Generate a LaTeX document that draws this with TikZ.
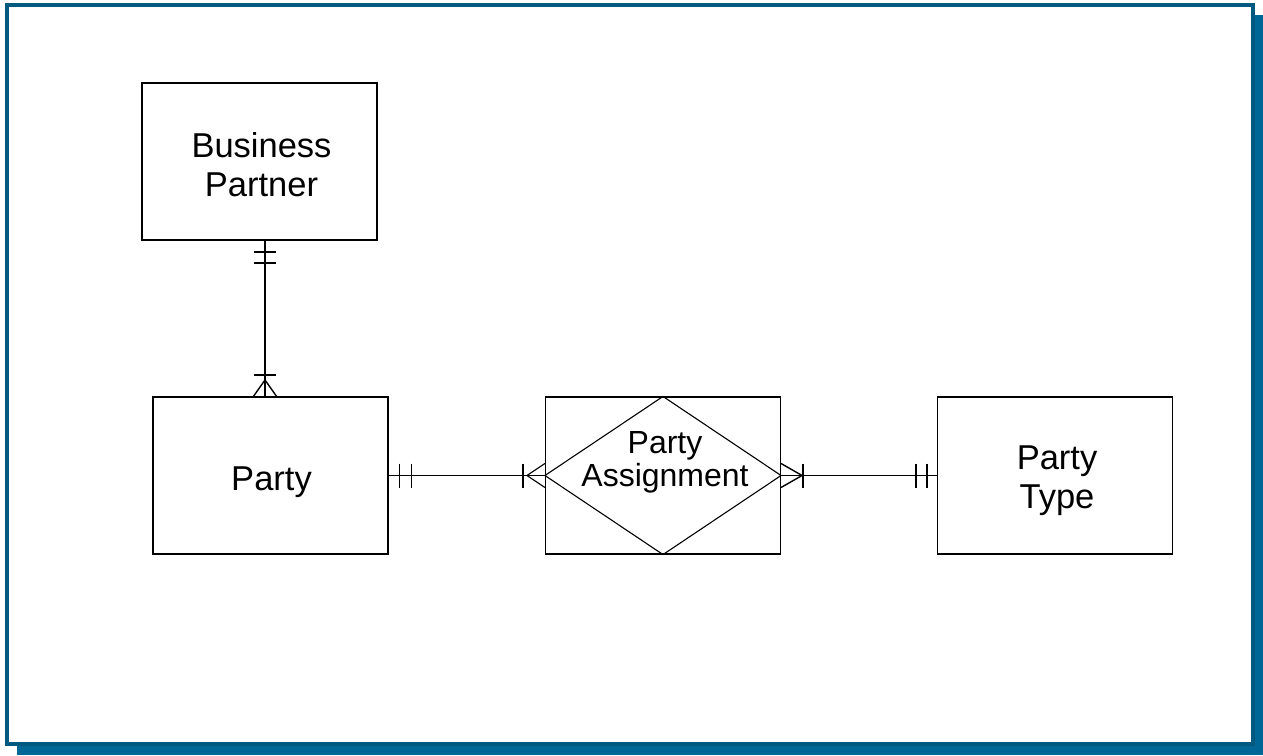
\documentclass[tikz,border=0pt]{standalone}
\usepackage{fontspec}
\setmainfont{Liberation Sans}
\usetikzlibrary{calc}
\definecolor{framecol}{RGB}{0,90,128}
\definecolor{shadowcol}{RGB}{0,102,150}
\begin{document}
\begin{tikzpicture}[x=1pt,y=-1pt,
  entity/.style={draw,line width=1.1pt,minimum width=235pt,minimum height=157pt,inner sep=0pt},
  etext/.style={align=center,font=\fontsize{34.5}{39}\selectfont},
  conn/.style={line width=1.4pt},
  connthin/.style={line width=1.1pt}]
\useasboundingbox (0,0) rectangle (1263,755);
% frame with shadow
\fill[shadowcol] (17,15) rectangle (1263,755);
\draw[framecol,line width=4pt,fill=white] (7,5) rectangle (1253,744);
% entities
\node[entity] (bp) at (259.5,161.5) {};
\node[etext] (bpl) at (261.5,165) {Business\\Partner};
\node[entity] (party) at (270.5,475.5) {};
\node[etext] (partyl) at (271.5,482) {Party};
\node[entity] (pa) at (663,475.5) {};
\node[entity] (pt) at (1055,475.5) {};
\node[etext] (ptl) at (1057,481) {Party\\Type};
\draw[line width=1.1pt] (pa.north) -- (pa.east) -- (pa.south) -- (pa.west) -- cycle;
\node[align=center,font=\fontsize{32}{33}\selectfont] (pal) at (665,462) {Party\\Assignment};
% Business Partner -- Party
\coordinate (bpb) at (265,240);
\coordinate (pt1) at (265,397);
\draw[conn] (bpb) -- (pt1);
\draw[conn] ($(bpb)+(-11,12)$) -- ++(22,0);
\draw[conn] ($(bpb)+(-11,23)$) -- ++(22,0);
\draw[conn] ($(pt1)+(-11,-22)$) -- ++(22,0);
\draw[conn] ($(pt1)+(-12,0)$) -- ($(pt1)+(0,-17)$) -- ($(pt1)+(12,0)$);
% Party -- Party Assignment
\draw[connthin] (party.east) -- (pa.west);
\draw[connthin] ($(party.east)+(11,-12)$) -- ++(0,24);
\draw[connthin] ($(party.east)+(23,-12)$) -- ++(0,24);
\draw[connthin] ($(pa.west)+(-22,-12)$) -- ++(0,24);
\draw[connthin] ($(pa.west)+(0,-12)$) -- ($(pa.west)+(-18,0)$) -- ($(pa.west)+(0,12)$);
% Party Assignment -- Party Type
\draw[conn] (pa.east) -- (pt.west);
\draw[conn] ($(pa.east)+(0,-12)$) -- ($(pa.east)+(21,0)$) -- ($(pa.east)+(0,12)$);
\draw[conn] ($(pa.east)+(22,-12)$) -- ++(0,24);
\draw[conn] ($(pt.west)+(-21,-12)$) -- ++(0,24);
\draw[conn] ($(pt.west)+(-10,-12)$) -- ++(0,24);
\end{tikzpicture}
\end{document}
